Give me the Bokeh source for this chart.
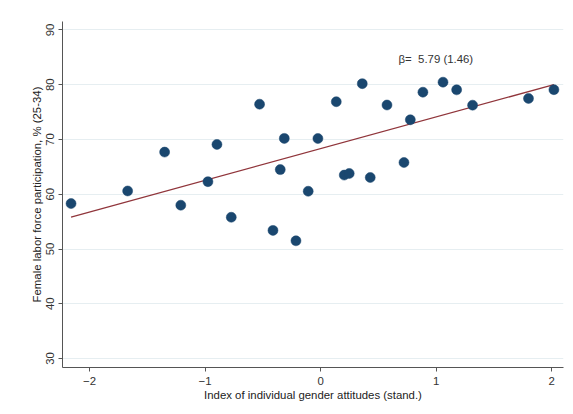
import numpy as np
from bokeh.plotting import figure
from bokeh.models import Label, Range1d, FixedTicker
from bokeh.embed import file_html
from bokeh.resources import INLINE

# Data
attitudes = [-2.16, -1.67, -1.35, -1.21, -0.975, -0.897, -0.773, -0.528, -0.412,
             -0.349, -0.314, -0.213, -0.107, -0.023, 0.136, 0.205, 0.248, 0.361,
             0.430, 0.575, 0.722, 0.777, 0.886, 1.060, 1.178, 1.316, 1.800, 2.020]
participation = [58.3, 60.6, 67.7, 58.0, 62.3, 69.1, 55.8, 76.45, 53.4,
                  64.5, 70.2, 51.5, 60.55, 70.18, 76.9, 63.5, 63.8, 80.2,
                  63.06, 76.3, 65.8, 73.6, 78.64, 80.47, 79.07, 76.27, 77.5, 79.1]
slope = 5.79
slope_se = 1.46
intercept = 68.33
x_ticks = [-2, -1, 0, 1, 2]
y_ticks = [30, 40, 50, 60, 70, 80, 90]
x_label = "Index of individual gender attitudes (stand.)"
y_label = "Female labor force participation, % (25-34)"
annotation = "β=\u00a0 %.2f (%.2f)" % (slope, slope_se)

FONT = "Liberation Sans"

p = figure(width=573, height=414, output_backend="svg", toolbar_location=None,
           x_range=Range1d(-2.234, 2.103), y_range=Range1d(28.36, 91.55),
           min_border_left=62, min_border_right=10, min_border_top=21,
           min_border_bottom=47)
p.outline_line_color = None
p.background_fill_color = "white"
p.border_fill_color = "white"

for ax, ticks in ((p.xaxis, x_ticks), (p.yaxis, y_ticks)):
    ax.ticker = FixedTicker(ticks=ticks)
    ax.minor_tick_line_color = None
    ax.major_tick_in = 0
    ax.major_tick_out = 4
    ax.major_tick_line_color = "#555555"
    ax.axis_line_color = "#555555"
    ax.axis_line_width = 1
    ax.major_label_text_font = FONT
    ax.major_label_text_font_size = "11.4px"
    ax.major_label_text_color = "#333333"
    ax.axis_label_text_font = FONT
    ax.axis_label_text_font_size = "11.4px"
    ax.axis_label_text_font_style = "normal"
    ax.axis_label_text_color = "#222222"

p.xaxis.axis_label = x_label
p.yaxis.axis_label = y_label
p.xaxis.major_label_standoff = 5
p.xaxis.axis_label_standoff = 1
p.yaxis.major_label_standoff = 4
p.yaxis.axis_label_standoff = 1
p.yaxis.major_label_orientation = "parallel"

p.xgrid.visible = False
p.ygrid.ticker = FixedTicker(ticks=y_ticks)
p.ygrid.grid_line_color = "#e6eef1"
p.ygrid.grid_line_width = 1

fit_x = np.array([min(attitudes), max(attitudes)])
fit_y = intercept + slope * fit_x
p.line(fit_x, fit_y, line_color="#90353b", line_width=1.3)

p.scatter(attitudes, participation, size=10, fill_color="#1a476f",
          line_color="#1a476f", line_width=0.5)

p.add_layout(Label(x=0.675, y=84.74, text=annotation, text_font=FONT,
                   text_font_size="11.4px", text_color="#333333",
                   text_baseline="middle", text_align="left"))

open("out.html", "w").write(file_html(p, INLINE))
